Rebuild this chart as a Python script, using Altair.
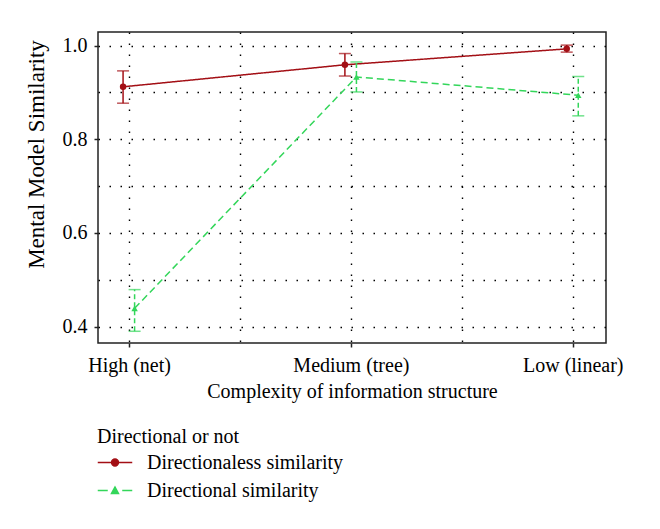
import altair as alt
import pandas as pd

categories = ["High (net)", "Medium (tree)", "Low (linear)"]
series_names = ["Directionaless similarity", "Directional similarity"]

directionless_mean = [0.912, 0.959, 0.993]
directionless_low = [0.877, 0.935, 0.986]
directionless_high = [0.946, 0.983, 1.001]

directional_mean = [0.439, 0.933, 0.894]
directional_low = [0.390, 0.901, 0.850]
directional_high = [0.479, 0.965, 0.934]

y_ticks = [0.4, 0.5, 0.6, 0.7, 0.8, 0.9, 1.0]
x_ticks = [1, 1.5, 2, 2.5, 3]

colors = ["#A30F15", "#33D65A"]
dodge = [-0.027, 0.025]
line_dash = [[1, 0], [7, 4]]
bar_dash = [[1, 0], [5, 3]]
legend_paths = [
    "M-1,0H1M-0.2,0A0.2,0.2,0,1,0,0.2,0A0.2,0.2,0,1,0,-0.2,0Z",
    "M-1,0H-0.42M0.42,0H1M-0.2,0.17L0,-0.2L0.2,0.17Z",
]
point_shapes = ["circle", "triangle-up"]

means = [directionless_mean, directional_mean]
lows = [directionless_low, directional_low]
highs = [directionless_high, directional_high]

rows = []
for s, name in enumerate(series_names):
    for i, cat in enumerate(categories):
        rows.append(dict(series=name, category=cat, pos=i + 1 + dodge[s],
                         mean=means[s][i], low=lows[s][i], high=highs[s][i]))
df = pd.DataFrame(rows)

label_expr = " : ".join(
    [f"datum.value == {i + 1} ? '{c}'" for i, c in enumerate(categories)]
) + " : ''"

x_axis = alt.Axis(
    values=x_ticks, labelExpr=label_expr, labelOverlap=False, labelFlush=False,
    tickOpacity={"condition": {"test": "datum.value % 1 != 0", "value": 0}, "value": 1},
    labelFontSize=20, labelPadding=8, titleFontSize=20, titlePadding=6,
)
y_axis = alt.Axis(
    values=y_ticks, labelOverlap=False, labelFlush=False,
    labelExpr="round(datum.value * 10) % 2 == 0 ? format(datum.value, '.1f') : ''",
    tickOpacity={"condition": {"test": "round(datum.value * 10) % 2 == 1", "value": 0}, "value": 1},
    labelFontSize=20, labelPadding=7, titleFontSize=23, titleX=-50, titleY=122,
)
x_scale = alt.Scale(domain=[0.86, 3.15], nice=False, zero=False)
y_scale = alt.Scale(domain=[0.365, 1.029], nice=False, zero=False)


def X(field):
    return alt.X(field, type="quantitative", scale=x_scale, axis=x_axis,
                 title="Complexity of information structure")


def Y(field):
    return alt.Y(field, type="quantitative", scale=y_scale, axis=y_axis,
                 title="Mental Model Similarity")


layers = []
for s, name in enumerate(series_names):
    sub = df[df.series == name]
    base = alt.Chart(sub)
    layers.append(base.mark_line(strokeWidth=1.5, strokeDash=line_dash[s]).encode(
        x=X("pos"), y=Y("mean"), color=alt.value(colors[s])))
    layers.append(base.mark_rule(strokeWidth=1.5, strokeDash=bar_dash[s]).encode(
        x=X("pos"), y=Y("low"), y2="high", color=alt.value(colors[s])))
    layers.append(base.mark_tick(orient="horizontal", size=12, thickness=1.5).encode(
        x=X("pos"), y=Y("low"), color=alt.value(colors[s])))
    layers.append(base.mark_tick(orient="horizontal", size=12, thickness=1.5).encode(
        x=X("pos"), y=Y("high"), color=alt.value(colors[s])))
    layers.append(base.mark_point(filled=True, size=42, shape=point_shapes[s], opacity=1).encode(
        x=X("pos"), y=Y("mean"), color=alt.value(colors[s])))

legend = alt.Legend(
    title="Directional or not", orient="none", legendX=-1, legendY=395,
    direction="vertical", titleFontSize=20, titleFontWeight="normal", titleColor="black",
    labelFontSize=20, labelColor="black", labelOffset=14, labelLimit=400,
    rowPadding=-10.5, titlePadding=-2.5,
    symbolSize=1190, symbolStrokeWidth=1.5, symbolOpacity=1, padding=0,
)
legend_layer = alt.Chart(df).transform_filter("false").mark_point(
    filled=True, size=1190, strokeWidth=1.5, opacity=1
).encode(
    x=X("pos"), y=Y("mean"),
    fill=alt.Fill("series:N", scale=alt.Scale(domain=series_names, range=colors), legend=legend),
    stroke=alt.Stroke("series:N", scale=alt.Scale(domain=series_names, range=colors), legend=legend),
    shape=alt.Shape("series:N", scale=alt.Scale(domain=series_names, range=legend_paths), legend=legend),
)

chart = alt.layer(*layers, legend_layer).properties(
    width=508, height=311,
    autosize=alt.AutoSizeParams(type="none"),
    padding={"left": 90, "top": 24, "right": 46, "bottom": 178},
).configure(
    font="Liberation Serif",
).configure_axis(
    labelColor="black", titleColor="black", titleFontWeight="normal",
    tickColor="#222", tickWidth=1.5, tickSize=4, domain=False,
    grid=True, gridColor="black", gridDash=[1.5, 9.5], gridWidth=1.4, gridOpacity=1,
).configure_view(stroke="#222", strokeWidth=1.5)

chart.save("out.html", embed_options={"renderer": "svg", "actions": False})
